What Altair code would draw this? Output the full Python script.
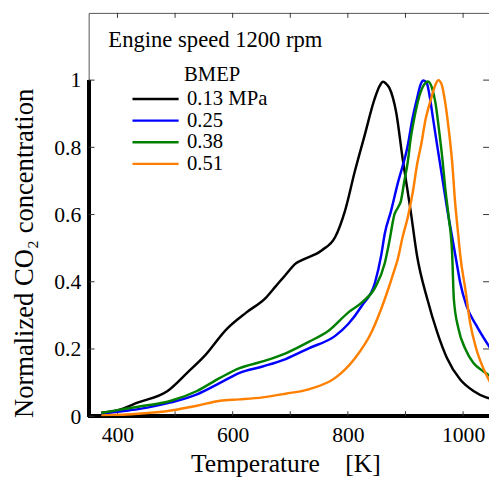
import altair as alt
import pandas as pd

# ---- data ----
series_labels = ["0.13 MPa", "0.25", "0.38", "0.51"]
series_colors = ["#000000", "#0000ff", "#008000", "#ff8000"]

t_013 = [372, 401, 436, 487, 521, 550, 590, 624, 658, 675, 692, 710, 721, 755, 778, 795, 812, 829, 846, 855, 861, 866, 872, 884, 895, 909, 920, 938, 955, 972, 995, 1018, 1040, 1048]
c_013 = [0.01, 0.018, 0.041, 0.075, 0.129, 0.177, 0.26, 0.309, 0.353, 0.387, 0.421, 0.455, 0.465, 0.494, 0.533, 0.611, 0.728, 0.835, 0.942, 0.982, 0.995, 0.99, 0.977, 0.903, 0.767, 0.611, 0.478, 0.348, 0.25, 0.173, 0.109, 0.075, 0.056, 0.052]

t_025 = [372, 400, 436, 493, 538, 578, 612, 652, 692, 732, 778, 801, 824, 847, 858, 864, 875, 886, 904, 912, 921, 926, 931, 937, 942, 948, 955, 964, 972, 981, 988, 995, 1006, 1023, 1048]
c_025 = [0.007, 0.013, 0.021, 0.041, 0.065, 0.099, 0.129, 0.148, 0.17, 0.202, 0.239, 0.275, 0.328, 0.397, 0.48, 0.543, 0.611, 0.689, 0.806, 0.884, 0.952, 0.986, 0.999, 0.991, 0.952, 0.884, 0.806, 0.708, 0.621, 0.533, 0.465, 0.397, 0.328, 0.27, 0.2]

t_038 = [372, 400, 436, 493, 538, 578, 612, 652, 692, 732, 767, 801, 824, 847, 864, 872, 881, 887, 892, 898, 904, 909, 915, 924, 932, 939, 946, 952, 958, 964, 969, 975, 981, 984, 992, 1004, 1018, 1035, 1048]
c_038 = [0.01, 0.018, 0.028, 0.046, 0.075, 0.114, 0.143, 0.163, 0.187, 0.221, 0.255, 0.309, 0.338, 0.382, 0.455, 0.52, 0.601, 0.621, 0.64, 0.699, 0.757, 0.825, 0.884, 0.952, 0.986, 0.996, 0.977, 0.933, 0.855, 0.767, 0.679, 0.592, 0.484, 0.348, 0.26, 0.2, 0.158, 0.134, 0.118]

t_051 = [372, 436, 493, 538, 578, 612, 652, 692, 732, 778, 812, 841, 864, 881, 887, 895, 904, 912, 921, 927, 935, 944, 952, 957, 963, 969, 975, 981, 986, 992, 995, 1004, 1012, 1023, 1035, 1048]
c_051 = [0.002, 0.007, 0.017, 0.031, 0.046, 0.05, 0.056, 0.067, 0.08, 0.114, 0.172, 0.25, 0.348, 0.436, 0.47, 0.533, 0.592, 0.66, 0.757, 0.806, 0.884, 0.942, 0.986, 1.0, 0.986, 0.933, 0.855, 0.757, 0.64, 0.533, 0.48, 0.377, 0.28, 0.2, 0.143, 0.098]

x_label_values = [400, 600, 800, 1000]
x_tick_values = [400, 500, 600, 700, 800, 900, 1000]
y_values = [0, 0.2, 0.4, 0.6, 0.8, 1.0]
y_right_tick_values = [0.2, 0.4, 0.6, 0.8, 1.0]
x_title = "Temperature\u00a0\u00a0\u00a0\u00a0[K]"
y_title = "Normalized CO\u2082 concentration"
annotation = ["Engine speed 1200 rpm"]
legend_title = ["BMEP"]

rows = []
for lab, ts, cs in zip(series_labels, [t_013, t_025, t_038, t_051], [c_013, c_025, c_038, c_051]):
    for i, (t, c) in enumerate(zip(ts, cs)):
        rows.append({"T": t, "C": c, "BMEP": lab, "i": i})
df = pd.DataFrame(rows)
xt = pd.DataFrame({"v": x_tick_values})
yt = pd.DataFrame({"v": y_values})
yrt = pd.DataFrame({"v": y_right_tick_values})

W, H = 407, 410
FONT = "Liberation Serif"
xs = alt.Scale(domain=[350, 1045], nice=False, zero=False)
ys = alt.Scale(domain=[0, 1.2], nice=False, zero=False)

# thick frame parts
left_bar = alt.Chart(df).mark_rule(color="black", strokeWidth=3).encode(
    x=alt.XDatum(350, axis=None, scale=xs), y=alt.YDatum(0, axis=None, scale=ys), y2=alt.Y2Datum(1))
bottom_bar = alt.Chart(df).mark_rule(color="black", strokeWidth=3).encode(
    x=alt.XDatum(350, axis=None, scale=xs), x2=alt.X2Datum(1045), y=alt.YDatum(0, axis=None, scale=ys))

# inward ticks
tick_c = "#333"
bottom_ticks = alt.Chart(xt).mark_rule(color=tick_c, strokeWidth=1).encode(
    x=alt.X("v:Q", scale=xs, axis=None), y=alt.value(H), y2=alt.value(H - 5))
top_ticks = alt.Chart(xt).mark_rule(color=tick_c, strokeWidth=1).encode(
    x=alt.X("v:Q", scale=xs, axis=None), y=alt.value(0), y2=alt.value(5))
left_ticks = alt.Chart(yt).mark_rule(color=tick_c, strokeWidth=1).encode(
    y=alt.Y("v:Q", scale=ys, axis=None), x=alt.value(0), x2=alt.value(6))
right_ticks = alt.Chart(yrt).mark_rule(color=tick_c, strokeWidth=1).encode(
    y=alt.Y("v:Q", scale=ys, axis=None), x=alt.value(W), x2=alt.value(W - 6))

lines = alt.Chart(df).mark_line(strokeWidth=2.5, interpolate="monotone", clip=True).encode(
    x=alt.X("T:Q", scale=xs, axis=alt.Axis(
        orient="bottom", values=x_label_values, ticks=False, domain=False, grid=False,
        labelFontSize=22, labelColor="black", labelPadding=9, format="d", labelFont=FONT,
        title=x_title, titleFontSize=26, titleFontWeight="normal", titleColor="black", titleFont=FONT,
        titleX=200, titleY=56, titleBaseline="alphabetic", titleAlign="center")),
    y=alt.Y("C:Q", scale=ys, axis=alt.Axis(
        orient="left", values=y_values, ticks=False, domain=False, grid=False,
        labelFontSize=22, labelColor="black", labelPadding=8, format=".1~f", labelFont=FONT,
        title=y_title, titleFontSize=27, titleFontWeight="normal", titleColor="black", titleFont=FONT,
        titleX=-57, titleY=244, titleBaseline="alphabetic", titleAlign="center", titleAngle=270)),
    color=alt.Color("BMEP:N", scale=alt.Scale(domain=series_labels, range=series_colors),
                    legend=alt.Legend(
                        title=None, orient="none", legendX=43, legendY=77,
                        symbolType="stroke", symbolSize=2200, symbolStrokeWidth=2.5,
                        clipHeight=21, labelFontSize=21, labelColor="black", labelOffset=7,
                        labelFont=FONT, padding=0, rowPadding=0)),
    order="i:Q",
)

note = alt.Chart(pd.DataFrame({"t": annotation})).mark_text(
    align="left", baseline="alphabetic", fontSize=23, color="black", font=FONT
).encode(text="t:N", x=alt.value(20), y=alt.value(35))

leg_title = alt.Chart(pd.DataFrame({"t": legend_title})).mark_text(
    align="left", baseline="alphabetic", fontSize=21, color="black", font=FONT
).encode(text="t:N", x=alt.value(97), y=alt.value(69))

chart = alt.layer(
    left_bar, bottom_bar, bottom_ticks, top_ticks, left_ticks, right_ticks, lines, note, leg_title
).resolve_axis(x="independent", y="independent").properties(
    width=W, height=H,
    autosize=alt.AutoSizeParams(type="none"),
    padding={"left": 82, "top": 1, "right": 0, "bottom": 68},
).configure(font=FONT).configure_view(stroke="#555", strokeWidth=1)

chart.save("out.html", embed_options={"renderer": "svg", "actions": False})
